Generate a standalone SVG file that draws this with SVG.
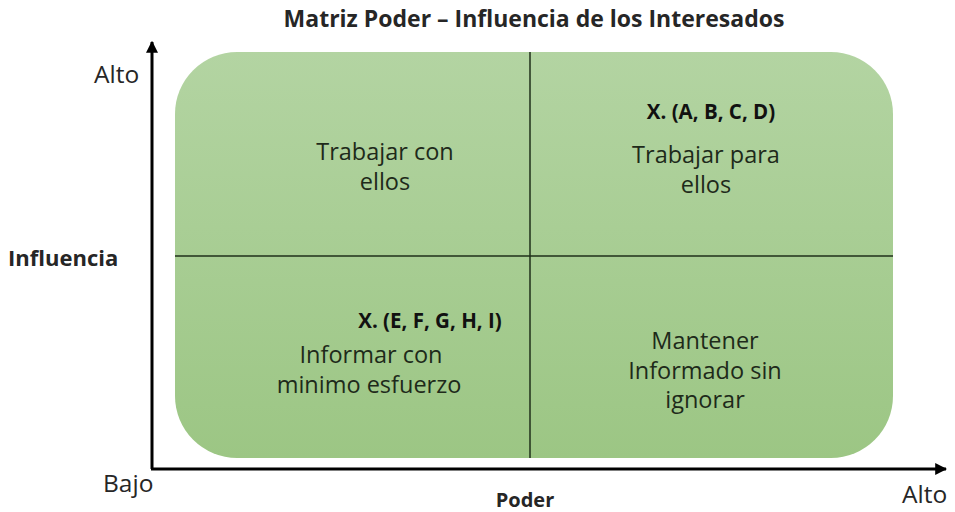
<svg xmlns="http://www.w3.org/2000/svg" width="955" height="512" viewBox="0 0 955 512">
<style>
.t{font-family:"Open Sans","Liberation Sans",sans-serif;fill:#262626}
.q{font-size:23.5px;text-anchor:middle;fill:#1e2a1a}
.x{font-size:20.5px;font-weight:bold;text-anchor:middle;fill:#111}
.b{font-weight:bold}
.l{font-size:24.5px}
.ax{stroke:#000;stroke-width:3;fill:none}
.div{stroke:#1f2f1a;stroke-width:1.5}
</style>
<defs>
<linearGradient id="g" x1="0" y1="0" x2="0" y2="1">
<stop offset="0" stop-color="#b3d4a2"/>
<stop offset="1" stop-color="#9cc684"/>
</linearGradient>
<marker id="ar" viewBox="0 0 10 10" refX="9" refY="5" markerWidth="4" markerHeight="4" orient="auto" markerUnits="strokeWidth">
<path d="M0,0 L10,5 L0,10 z" fill="#000"/>
</marker>
</defs>
<rect width="955" height="512" fill="#fff"/>
<text class="t b" x="534" y="27" font-size="23" text-anchor="middle" fill="#111">Matriz Poder – Influencia de los Interesados</text>
<g id="matrix">
<rect x="175" y="52" width="718" height="406" rx="62" ry="62" fill="url(#g)"/>
</g>
<g id="connectors">
<line class="div" x1="530" y1="52" x2="530" y2="458"/>
<line class="div" x1="175" y1="256" x2="893" y2="256"/>
<path class="ax" d="M152,469 L152,42" marker-end="url(#ar)"/>
<path class="ax" d="M151,469 L946,469" marker-end="url(#ar)"/>
</g>
<g id="q1">
<text class="t q" x="385" y="160">Trabajar con</text>
<text class="t q" x="385" y="190">ellos</text>
</g>
<g id="q2">
<text class="t x" x="711" y="119">X. (A, B, C, D)</text>
<text class="t q" x="706" y="163">Trabajar para</text>
<text class="t q" x="706" y="193">ellos</text>
</g>
<g id="q3">
<text class="t x" x="430" y="328">X. (E, F, G, H, I)</text>
<text class="t q" x="371" y="363">Informar con</text>
<text class="t q" x="369" y="393">minimo esfuerzo</text>
</g>
<g id="q4">
<text class="t q" x="705" y="349">Mantener</text>
<text class="t q" x="705" y="379">Informado sin</text>
<text class="t q" x="705" y="408">ignorar</text>
</g>
<g id="labels">
<text class="t l" x="94" y="83">Alto</text>
<text class="t b" x="8" y="266" font-size="22" fill="#111">Influencia</text>
<text class="t l" x="103" y="492">Bajo</text>
<text class="t b" x="525" y="507" font-size="20" text-anchor="middle" fill="#111">Poder</text>
<text class="t l" x="902" y="503">Alto</text>
</g>
</svg>
